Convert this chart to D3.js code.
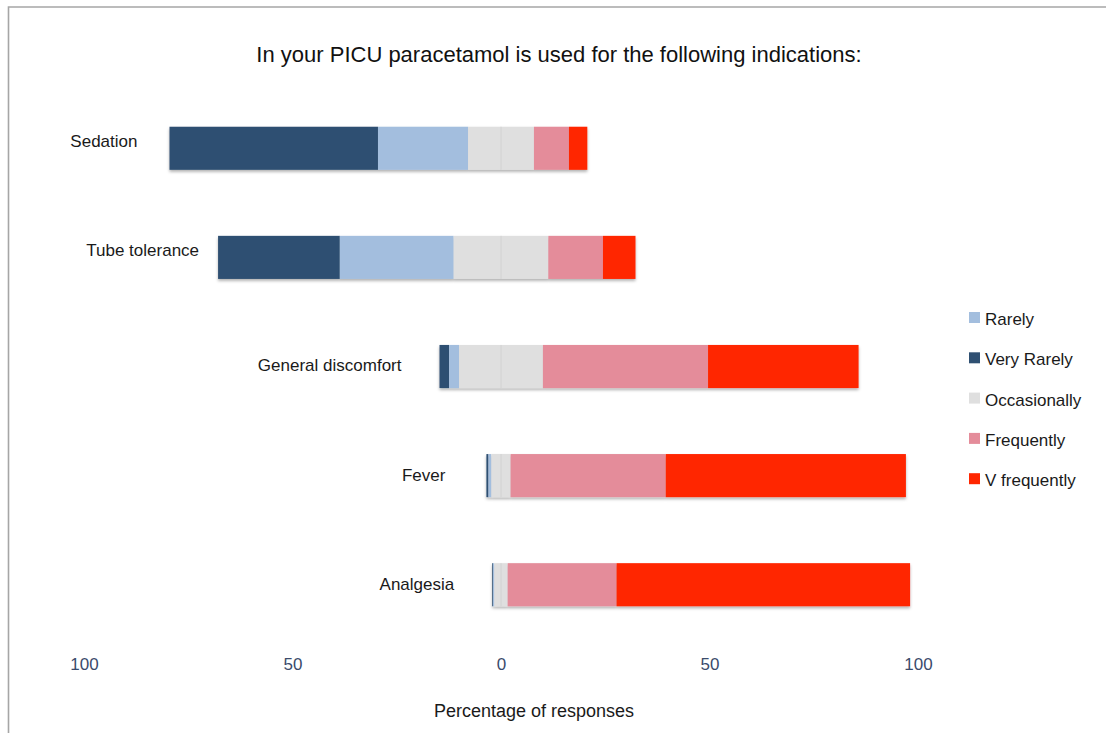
<!DOCTYPE html>
<html lang="en">
<head>
  <meta charset="UTF-8">
  <title>Paracetamol indications in PICU</title>
  <script src="https://d3js.org/d3.v7.min.js"></script>
  <style>
    body {
      margin: 0;
      background: #fff;
      font-family: "Liberation Sans", Arial, sans-serif;
    }

    svg {
      display: block;
    }

    .tick text {
      font-size: 17px;
      fill: #3b4b6b;
    }
  </style>
</head>
<body>
  <svg id="chart"></svg>

  <script>
    // data (percent of responses)
    const indications = ["Sedation", "Tube tolerance", "General discomfort", "Fever", "Analgesia"];
    const veryRarely = [50.0, 29.2, 2.3, 0.5, 0.2];
    const rarely = [21.6, 27.3, 2.4, 0.7, 0.3];
    const occasionally = [15.8, 22.7, 20.1, 4.6, 3.2];
    const frequently = [8.4, 13.1, 39.6, 37.2, 26.1];
    const vFrequently = [4.4, 7.8, 36.1, 57.6, 70.4];

    const tickValues = [-100, -50, 0, 50, 100];
    const legendOrder = ["Rarely", "Very Rarely", "Occasionally", "Frequently", "V frequently"];

    // label placement tweaks (px gap from the bar start, vertical nudge)
    const labelGap = [32, 19, 38, 41, 38];
    const labelNudge = [-7, -7, -1, -1, -1];

    const colors = {
      "Very Rarely": "#2f5072",
      "Rarely": "#a3bede",
      "Occasionally": "#dfdfdf",
      "Frequently": "#e48c9a",
      "V frequently": "#ff2600"
    };

    const W = 1106, H = 733;

    const svg = d3.select("#chart")
      .attr("width", W)
      .attr("height", H);

    // thin frame at top and left
    svg.append("path")
      .attr("d", `M8.5,${H} V7 H${W}`)
      .attr("fill", "none")
      .attr("stroke", "#a6a6a6")
      .attr("stroke-width", 1.6);

    const defs = svg.append("defs");
    defs.append("filter")
      .attr("id", "shadow")
      .attr("x", "-5%").attr("y", "-20%")
      .attr("width", "110%").attr("height", "160%")
      .append("feDropShadow")
      .attr("dx", 0).attr("dy", 2)
      .attr("stdDeviation", 1.4)
      .attr("flood-color", "#000")
      .attr("flood-opacity", 0.3);

    const x = d3.scaleLinear()
      .domain([-100, 100])
      .range([84, 918]);

    const y = d3.scaleBand()
      .domain(indications)
      .range([94, 639])
      .paddingInner(0.605)
      .paddingOuter(0.3);

    // build diverging segments: occasionally is centred on zero
    const rows = indications.map((name, i) => {
      const parts = [
        ["Very Rarely", veryRarely[i]],
        ["Rarely", rarely[i]],
        ["Occasionally", occasionally[i]],
        ["Frequently", frequently[i]],
        ["V frequently", vFrequently[i]]
      ];
      let start = -(veryRarely[i] + rarely[i] + occasionally[i] / 2);
      const segs = parts.map(([key, v]) => {
        const s = { key, x0: start, x1: start + v };
        start += v;
        return s;
      });
      return { name, i, segs, left: segs[0].x0 };
    });

    const rowG = svg.selectAll(".row")
      .data(rows)
      .enter().append("g")
      .attr("class", "row");

    const barG = rowG.append("g")
      .attr("filter", "url(#shadow)");

    barG.selectAll("rect")
      .data(d => d.segs.map(s => ({ ...s, name: d.name })))
      .enter().append("rect")
      .attr("x", d => x(d.x0))
      .attr("y", d => y(d.name))
      .attr("width", d => Math.max(0, x(d.x1) - x(d.x0)))
      .attr("height", y.bandwidth())
      .attr("fill", d => colors[d.key]);

    // faint seam at zero inside the grey block
    rowG.append("line")
      .attr("x1", x(0)).attr("x2", x(0))
      .attr("y1", d => y(d.name))
      .attr("y2", d => y(d.name) + y.bandwidth())
      .attr("stroke", "#d2d2d2")
      .attr("stroke-width", 1);

    rowG.append("text")
      .attr("x", d => x(d.left) - labelGap[d.i])
      .attr("y", d => y(d.name) + y.bandwidth() / 2 + labelNudge[d.i])
      .attr("dy", "0.35em")
      .attr("text-anchor", "end")
      .style("font-size", "17px")
      .style("fill", "#1a1a1a")
      .text(d => d.name);

    // x axis: labels only
    const axis = svg.append("g")
      .attr("transform", "translate(0,652)")
      .call(d3.axisBottom(x).tickValues(tickValues).tickSize(0).tickFormat(d => Math.abs(d)));
    axis.select(".domain").remove();
    axis.selectAll("text").attr("dy", "0.9em");

    svg.append("text")
      .attr("x", 534)
      .attr("y", 717)
      .attr("text-anchor", "middle")
      .style("font-size", "18px")
      .style("fill", "#1a1a1a")
      .text("Percentage of responses");

    svg.append("text")
      .attr("x", 559)
      .attr("y", 62)
      .attr("text-anchor", "middle")
      .style("font-size", "22px")
      .style("fill", "#111")
      .text("In your PICU paracetamol is used for the following indications:");

    // legend
    const legend = svg.append("g")
      .attr("transform", "translate(969,319)");

    const item = legend.selectAll(".item")
      .data(legendOrder)
      .enter().append("g")
      .attr("transform", (d, i) => `translate(0,${i * 40.3})`);

    item.append("rect")
      .attr("x", 0).attr("y", -7)
      .attr("width", 11).attr("height", 11)
      .attr("fill", d => colors[d]);

    item.append("text")
      .attr("x", 16)
      .attr("y", 0)
      .attr("dy", "0.35em")
      .style("font-size", "17px")
      .style("fill", "#1a1a1a")
      .text(d => d);
  </script>
</body>
</html>
